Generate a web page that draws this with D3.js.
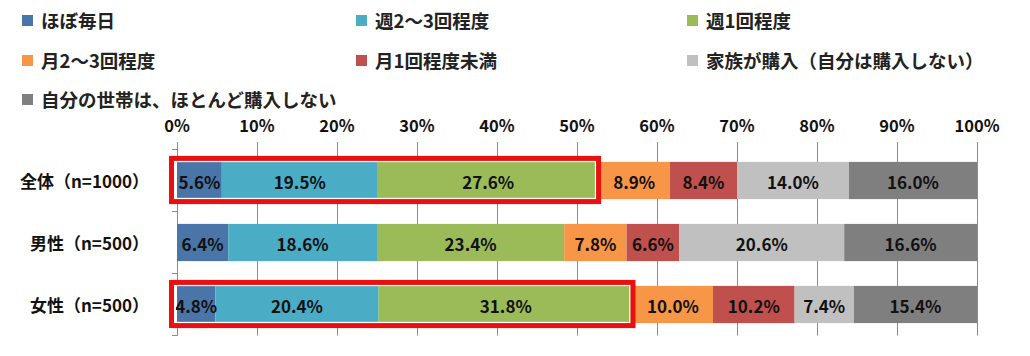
<!DOCTYPE html>
<html><head><meta charset="utf-8">
<script src="https://cdn.jsdelivr.net/npm/d3@7"></script>
<style>body{margin:0;background:#fff}svg{display:block;font-family:"Noto Sans CJK JP","Noto Sans",sans-serif}</style>
</head><body><svg id="c" width="1030" height="356"></svg>
<script>
const categories = ["全体（n=1000）", "男性（n=500）", "女性（n=500）"];
const seriesNames = ["ほぼ毎日", "週2～3回程度", "週1回程度", "月2～3回程度", "月1回程度未満", "家族が購入（自分は購入しない）", "自分の世帯は、ほとんど購入しない"];
const seriesColors = ["#4a75a8", "#4bacc6", "#9bbb59", "#f79646", "#c0504d", "#c0c0c0", "#7f7f7f"];
const v_daily   = [5.6, 6.4, 4.8];
const v_week23  = [19.5, 18.6, 20.4];
const v_week1   = [27.6, 23.4, 31.8];
const v_month23 = [8.9, 7.8, 10.0];
const v_month1  = [8.4, 6.6, 10.2];
const v_family  = [14.0, 20.6, 7.4];
const v_none    = [16.0, 16.6, 15.4];
const xTicks = [0,10,20,30,40,50,60,70,80,90,100];
const highlighted = [0, 2];
const highlightSeriesCount = 3;

const series = [v_daily, v_week23, v_week1, v_month23, v_month1, v_family, v_none];
const svg = d3.select("#c");
const x = d3.scaleLinear().domain([0,100]).range([177,977]);
const y = d3.scaleBand().domain(categories).range([149.5,335.5]).paddingInner(0.4).paddingOuter(0.2);
const gridTop = 142;

// gridlines
svg.append("g").selectAll("line").data(xTicks).join("line")
  .attr("x1", d=>x(d)+0.5).attr("x2", d=>x(d)+0.5)
  .attr("y1", gridTop).attr("y2", 335.5)
  .attr("stroke", "#8c8c8c").attr("stroke-width", 1);

// tick labels
svg.append("g").selectAll("text").data(xTicks).join("text")
  .attr("x", d=>x(d)).attr("y", 125).attr("text-anchor","middle").attr("dominant-baseline","central")
  .attr("font-size", 16.5).attr("font-weight", "bold").attr("fill","#111")
  .text(d=>d+"%");

// left axis with band-boundary ticks
const bandEdges = [0,1,2,3].map(i=>149.5 + i*y.step());
svg.append("line").attr("x1",177.5).attr("x2",177.5).attr("y1",gridTop).attr("y2",335.5).attr("stroke","#8c8c8c");
svg.append("g").selectAll("line").data(bandEdges).join("line")
  .attr("x1",172).attr("x2",177.5).attr("y1",d=>d).attr("y2",d=>d).attr("stroke","#8c8c8c");

// stacked bars
const rows = categories.map((c,i)=>{
  let acc=0; return series.map((s,k)=>{const r={cat:c,k,v:s[i],x0:acc,x1:acc+s[i]}; acc+=s[i]; return r;});
});
const g = svg.append("g");
rows.forEach(r=>{
  g.selectAll(null).data(r).join("rect")
   .attr("x",d=>x(d.x0)).attr("width",d=>x(d.x1)-x(d.x0))
   .attr("y",d=>y(d.cat)).attr("height",y.bandwidth())
   .attr("fill",d=>seriesColors[d.k]);
  g.selectAll(null).data(r).join("text")
   .attr("x",d=>(x(d.x0)+x(d.x1))/2).attr("y",d=>y(d.cat)+y.bandwidth()/2+1)
   .attr("text-anchor","middle").attr("dominant-baseline","central")
   .attr("font-size",17).attr("font-weight","bold").attr("fill","#111")
   .text(d=>d.v.toFixed(1)+"%");
});

// highlight boxes
highlighted.forEach(i=>{
  const sum = series.slice(0,highlightSeriesCount).reduce((a,s)=>a+s[i],0);
  const c = categories[i];
  svg.append("rect")
    .attr("x", x(0)-2).attr("width", x(sum)-x(0)-1)
    .attr("y", y(c)-0.5).attr("height", y.bandwidth())
    .attr("fill","none").attr("stroke","#ffffff").attr("stroke-width",1.5);
  svg.append("rect")
    .attr("x", x(0)-5.5).attr("width", x(sum)-x(0)+5.5)
    .attr("y", y(c)-3.5).attr("height", y.bandwidth()+6)
    .attr("fill","none").attr("stroke","#e81010").attr("stroke-width",5);
});

// category labels
svg.append("g").selectAll("text").data(categories).join("text")
  .attr("x",149).attr("y",c=>y(c)+y.bandwidth()/2)
  .attr("text-anchor","end").attr("dominant-baseline","central")
  .attr("font-size",17).attr("font-weight","bold").attr("fill","#111")
  .text(c=>c);

// legend
const legPos = [[22,20],[356,20],[687,20],[22,60],[356,60],[687,60],[22,99]];
const lg = svg.append("g");
seriesNames.forEach((n,k)=>{
  const [lx,ly] = legPos[k];
  lg.append("rect").attr("x",lx).attr("y",ly-5).attr("width",11).attr("height",11).attr("fill",seriesColors[k]);
  lg.append("text").attr("x",lx+19).attr("y",ly).attr("dominant-baseline","central")
    .attr("font-size",18.5).attr("font-weight","bold").attr("fill","#222").text(n);
});
</script></body></html>
